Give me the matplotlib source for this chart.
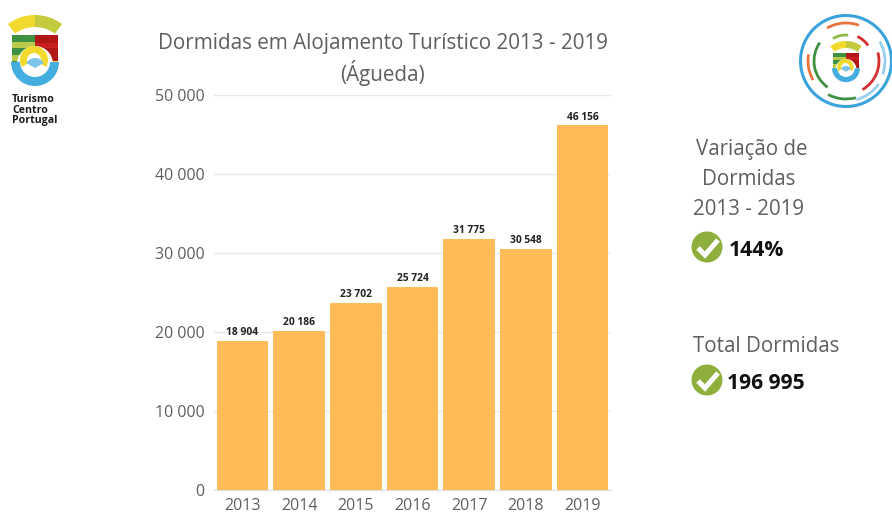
import matplotlib
matplotlib.use('Agg')
import matplotlib.pyplot as plt
from matplotlib.patches import Circle, Rectangle, Wedge, Arc

plt.rcParams['font.family'] = ['Open Sans', 'DejaVu Sans']

years = ['2013', '2014', '2015', '2016', '2017', '2018', '2019']
dormidas = [18904, 20186, 23702, 25724, 31775, 30548, 46156]
yticks = [0, 10000, 20000, 30000, 40000, 50000]
W, H = 892, 514


def fmt(v):
    return f'{v:,}'.replace(',', ' ')


fig = plt.figure(figsize=(W / 100, H / 100), dpi=100, facecolor='white')
ax = fig.add_axes([214 / W, 1 - 490 / H, 397 / W, 395 / H])
ax.bar(years, dormidas, width=0.91, color='#FFBB58', zorder=3)
ax.set_xlim(-0.5, 6.5)
ax.set_ylim(0, 50000)
ax.set_yticks(yticks, [fmt(v) for v in yticks])
ax.grid(axis='y', color='#E8E8E8', lw=1, zorder=0)
ax.tick_params(length=0, labelsize=11.5, labelcolor='#5f5f5f')
ax.tick_params(axis='x', pad=6)
ax.tick_params(axis='y', pad=7)
for s in ['top', 'left', 'right']:
    ax.spines[s].set_visible(False)
ax.spines['bottom'].set_color('#DDDDDD')
for i, v in enumerate(dormidas):
    ax.annotate(fmt(v), (i, v), xytext=(0, 2), textcoords='offset points',
                ha='center', va='bottom', fontsize=7.4, fontweight='bold', color='#222222')

# overlay in pixel coordinates for title, side text and logos
ov = fig.add_axes([0, 0, 1, 1], zorder=5)
ov.set_xlim(0, W)
ov.set_ylim(H, 0)
ov.axis('off')
ov.patch.set_alpha(0)

ov.text(382.5, 44, 'Dormidas em Alojamento Turístico 2013 - 2019', ha='center', va='center',
        fontsize=14.9, color='#5f5f5f')
ov.text(382.5, 73.5, '(Águeda)', ha='center', va='center', fontsize=14.9, color='#5f5f5f')

for y, t, x in [(150, 'Variação de', 751.5), (179.5, 'Dormidas', 749), (209.5, '2013 - 2019', 749),
                (346.5, 'Total Dormidas', 766)]:
    ov.text(x, y, t, ha='center', va='center', fontsize=14.8, color='#5f5f5f')
ov.text(729, 250.5, '144%', ha='left', va='center', fontsize=15.2, fontweight='bold', color='#111111')
ov.text(727, 383.5, '196 995', ha='left', va='center', fontsize=15.2, fontweight='bold', color='#111111')

for cy in (247, 380):
    ov.add_patch(Circle((707, cy), 15.5, color='#8FAF3C', lw=0))
    ov.plot([698, 705, 718], [cy + 1, cy + 8, cy - 7], color='white', lw=3.6,
            solid_capstyle='butt', solid_joinstyle='miter')


def shield(cx, top, s):
    """Small crest: s is the scale relative to the left logo."""
    w, h = 23 * s, 31 * s
    ov.add_patch(Wedge((cx, top + 45 * s), 45 * s, 233, 270, width=12 * s, color='#F2D92E', lw=0))
    ov.add_patch(Wedge((cx, top + 45 * s), 45 * s, 270, 307, width=12 * s, color='#C5CB3F', lw=0))
    y0 = top + 20 * s
    ov.add_patch(Rectangle((cx - w, y0), w, h, color='#B9C94A', lw=0))
    for k in (0, 1, 2):
        ov.add_patch(Rectangle((cx - w, y0 + k * 13 * s), w, 7 * s, color='#3F9142', lw=0))
    ov.add_patch(Rectangle((cx, y0), w, h, color='#B01818', lw=0))
    ov.add_patch(Rectangle((cx, y0 + 8 * s), w, 5 * s, color='#C82020', lw=0))
    ov.add_patch(Rectangle((cx, y0 + h * 0.85), w, h * 0.15, color='#F0D040', lw=0))
    ov.add_patch(Circle((cx, y0 + 29 * s), 18 * s, color='white', lw=0))
    ov.add_patch(Wedge((cx, y0 + 27 * s), 24 * s, 0, 180, width=9 * s, color='#45AEE0', lw=0))
    ov.add_patch(Wedge((cx - 1 * s, y0 + 25 * s), 14 * s, 150, 30, width=7 * s, color='#F2D92E', lw=0))
    ov.add_patch(Wedge((cx, y0 + 33 * s), 10 * s, 210, 330, width=10 * s, color='#7CC4EA', lw=0))


shield(35, 15, 1.0)
for y, t in [(100, 'Turismo'), (110.5, 'Centro'), (121, 'Portugal')]:
    ov.text(12, y, t, ha='left', va='center', fontsize=7.6, fontweight='bold', color='#1a1a1a')

# circular logo
c = (846, 61)
ov.add_patch(Circle(c, 45.5, fill=False, ec='#3BA3DB', lw=2.2))
arcs = [(38, 240, 290, '#E8743B'), (38, 150, 190, '#E8743B'), (39, 330, 20, '#9CCFEF'),
        (40, 35, 75, '#9CCFEF'), (32, 125, 215, '#3F9142'), (33, 345, 60, '#D32F2F'),
        (38, 75, 118, '#3F9142'), (26, 240, 275, '#8DBB45'), (27, 295, 325, '#D32F2F')]
for r, a, b, col in arcs:
    ov.add_patch(Arc(c, 2 * r, 2 * r, theta1=a, theta2=b, color=col, lw=2.0))
shield(846, 41, 0.58)

fig.savefig('out.png', dpi=100)
